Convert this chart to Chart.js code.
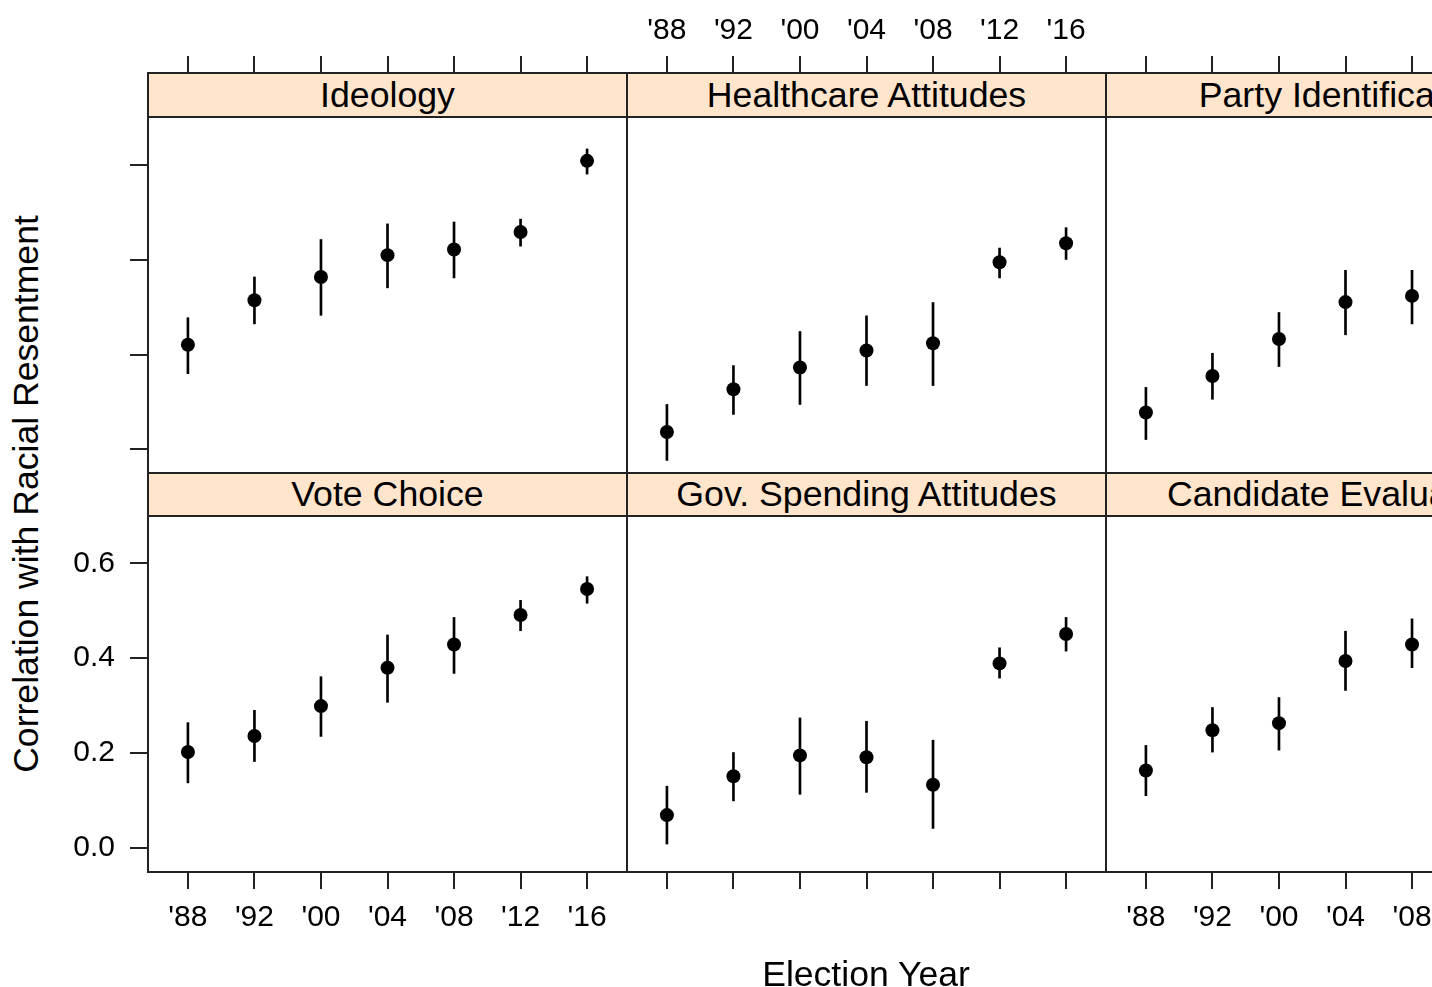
<!DOCTYPE html>
<html>
<head>
<meta charset="utf-8">
<title>Correlation with Racial Resentment</title>
<script src="https://cdn.jsdelivr.net/npm/chart.js@4.4.0/dist/chart.umd.min.js"></script>
<style>
  body {
    margin: 0;
    width: 1432px;
    height: 987px;
    overflow: hidden;
    position: relative;
    background: #fff;
    font-family: "Liberation Sans", Arial, sans-serif;
    color: #000;
  }
  canvas { position: absolute; }
  .strip {
    position: absolute;
    box-sizing: border-box;
    border: 2px solid #222;
    background: #ffe5cc;
    font-size: 35.7px;
    display: flex;
    align-items: center;
    justify-content: center;
    white-space: nowrap;
    overflow: hidden;
  }
  .frame {
    position: absolute;
    box-sizing: border-box;
    border: 2px solid #222;
    pointer-events: none;
  }
  .titulo {
    position: absolute;
    font-size: 35.6px;
    line-height: 35px;
    white-space: nowrap;
  }
</style>
</head>
<body>
<script>
// years on the x axis (same in every panel)
const years = ["'88", "'92", "'00", "'04", "'08", "'12", "'16"];
const yTicks = [0, 0.2, 0.4, 0.6];

// Ideology
const ideology = [0.221, 0.315, 0.364, 0.410, 0.422, 0.459, 0.609];
const ideologyLow = [0.160, 0.265, 0.283, 0.341, 0.362, 0.429, 0.581];
const ideologyHigh = [0.278, 0.364, 0.443, 0.476, 0.480, 0.486, 0.634];

// Healthcare Attitudes
const healthcare = [0.037, 0.127, 0.173, 0.209, 0.224, 0.395, 0.435];
const healthcareLow = [-0.023, 0.074, 0.095, 0.135, 0.135, 0.362, 0.401];
const healthcareHigh = [0.095, 0.177, 0.249, 0.282, 0.310, 0.425, 0.468];

// Party Identification ('12 and '16 are cut off in the picture)
const partyId = [0.078, 0.155, 0.233, 0.311, 0.324, null, null];
const partyIdLow = [0.021, 0.106, 0.175, 0.242, 0.265, null, null];
const partyIdHigh = [0.131, 0.203, 0.289, 0.378, 0.378, null, null];

// Vote Choice
const voteChoice = [0.202, 0.236, 0.299, 0.380, 0.429, 0.491, 0.546];
const voteChoiceLow = [0.137, 0.182, 0.235, 0.307, 0.368, 0.458, 0.516];
const voteChoiceHigh = [0.264, 0.290, 0.361, 0.449, 0.486, 0.522, 0.572];

// Gov. Spending Attitudes
const spending = [0.069, 0.151, 0.195, 0.191, 0.133, 0.389, 0.451];
const spendingLow = [0.008, 0.099, 0.113, 0.117, 0.041, 0.358, 0.415];
const spendingHigh = [0.130, 0.201, 0.274, 0.267, 0.227, 0.422, 0.486];

// Candidate Evaluations ('12 and '16 are cut off in the picture)
const candidate = [0.163, 0.248, 0.263, 0.394, 0.429, null, null];
const candidateLow = [0.110, 0.202, 0.206, 0.332, 0.380, null, null];
const candidateHigh = [0.216, 0.296, 0.317, 0.457, 0.483, null, null];

const panels = [
    { title: 'Ideology', row: 0, col: 0, est: ideology, low: ideologyLow, high: ideologyHigh },
    { title: 'Healthcare Attitudes', row: 0, col: 1, est: healthcare, low: healthcareLow, high: healthcareHigh },
    { title: 'Party Identification', row: 0, col: 2, est: partyId, low: partyIdLow, high: partyIdHigh },
    { title: 'Vote Choice', row: 1, col: 0, est: voteChoice, low: voteChoiceLow, high: voteChoiceHigh },
    { title: 'Gov. Spending Attitudes', row: 1, col: 1, est: spending, low: spendingLow, high: spendingHigh },
    { title: 'Candidate Evaluations', row: 1, col: 2, est: candidate, low: candidateLow, high: candidateHigh }
];

// layout of the lattice (pixels)
const colX = [148, 627, 1106, 1585];
const stripTop = [73, 473];
const panelTop = [117, 516];
const panelBottom = [473, 872];
const fonte = { family: '"Liberation Sans", Arial, sans-serif', size: 30 };

function drawPanel(p) {
    const left = colX[p.col];
    const right = colX[p.col + 1];
    const padLeft = p.col == 0 ? 88 : 0;
    var top, bottom, padTop, padBottom, yMin, yMax;

    if (p.row == 0) {
        // chart area runs up under the strip so the top axis sits above it
        top = stripTop[0]; bottom = panelBottom[0];
        padTop = 73; padBottom = 0;
        yMin = -0.0496; yMax = 0.7943;
    } else {
        top = panelTop[1]; bottom = panelBottom[1];
        padTop = 0; padBottom = 80;
        yMin = -0.051; yMax = 0.700;
    }

    const canvas = document.createElement('canvas');
    canvas.width = (right - left) + padLeft;
    canvas.height = (bottom - top) + padTop + padBottom;
    canvas.style.left = (left - padLeft) + 'px';
    canvas.style.top = (top - padTop) + 'px';
    document.body.appendChild(canvas);

    const points = [];
    const bars = [];
    for (let i = 0; i < years.length; i++) {
        if (p.est[i] == null) continue;
        points.push({ x: i + 1, y: p.est[i] });
        bars.push({ x: i + 1, y: [p.low[i], p.high[i]] });
    }

    // lattice alternates the labels: top only in the middle, bottom on the sides
    const showX = p.row == 0 ? p.col == 1 : p.col != 1;
    const showY = p.row == 1;

    new Chart(canvas, {
        type: 'scatter',
        data: {
            datasets: [{
                type: 'scatter',
                data: points,
                pointRadius: 7,
                pointBackgroundColor: '#000',
                pointBorderWidth: 0,
                order: 0
            }, {
                type: 'bar',
                data: bars,
                barThickness: 2,
                backgroundColor: '#000',
                order: 1
            }]
        },
        options: {
            responsive: false,
            animation: false,
            devicePixelRatio: 1,
            layout: { padding: 0, autoPadding: false },
            plugins: {
                legend: { display: false },
                tooltip: { enabled: false }
            },
            scales: {
                x: {
                    type: 'linear',
                    position: p.row == 0 ? 'top' : 'bottom',
                    offset: false,
                    min: 0.4,
                    max: 7.6,
                    afterBuildTicks: function (s) {
                        s.ticks = years.map((t, i) => ({ value: i + 1 }));
                    },
                    afterFit: function (s) {
                        s.height = p.row == 0 ? padTop : padBottom;
                        s.paddingLeft = 0;
                        s.paddingRight = 0;
                    },
                    grid: { offset: false, drawOnChartArea: false, tickLength: 17, color: '#222', lineWidth: 2 },
                    border: { display: false },
                    ticks: {
                        display: showX,
                        autoSkip: false,
                        maxRotation: 0,
                        padding: p.row == 0 ? 7 : 11,
                        color: '#000',
                        font: fonte,
                        callback: v => years[Math.round(v) - 1]
                    }
                },
                y: {
                    type: 'linear',
                    display: p.col == 0,
                    position: 'left',
                    beginAtZero: false,
                    min: yMin,
                    max: yMax,
                    afterBuildTicks: function (s) {
                        s.ticks = yTicks.map(v => ({ value: v }));
                    },
                    afterFit: function (s) {
                        s.width = padLeft;
                        s.paddingTop = 0;
                        s.paddingBottom = 0;
                    },
                    grid: { drawOnChartArea: false, tickLength: 18, color: '#222', lineWidth: 2 },
                    border: { display: false },
                    ticks: {
                        display: showY,
                        padding: 15,
                        color: '#000',
                        font: fonte,
                        callback: v => v.toFixed(1)
                    }
                }
            }
        }
    });

    // strip and frame drawn over the canvas
    const strip = document.createElement('div');
    strip.className = 'strip';
    strip.style.left = (left - 1) + 'px';
    strip.style.width = (right - left + 2) + 'px';
    strip.style.top = (stripTop[p.row] - 1) + 'px';
    strip.style.height = (panelTop[p.row] - stripTop[p.row] + 2) + 'px';
    strip.textContent = p.title;
    document.body.appendChild(strip);

    const frame = document.createElement('div');
    frame.className = 'frame';
    frame.style.left = (left - 1) + 'px';
    frame.style.width = (right - left + 2) + 'px';
    frame.style.top = (panelTop[p.row] - 1) + 'px';
    frame.style.height = (panelBottom[p.row] - panelTop[p.row] + 2) + 'px';
    document.body.appendChild(frame);
}

panels.forEach(drawPanel);

// axis titles
const xTitle = document.createElement('div');
xTitle.className = 'titulo';
xTitle.textContent = 'Election Year';
xTitle.style.left = '866px';
xTitle.style.top = '957px';
xTitle.style.transform = 'translateX(-50%)';
document.body.appendChild(xTitle);

const yTitle = document.createElement('div');
yTitle.className = 'titulo';
yTitle.textContent = 'Correlation with Racial Resentment';
yTitle.style.left = '26px';
yTitle.style.top = '494px';
yTitle.style.transform = 'translate(-50%, -50%) rotate(-90deg)';
document.body.appendChild(yTitle);
</script>
</body>
</html>
